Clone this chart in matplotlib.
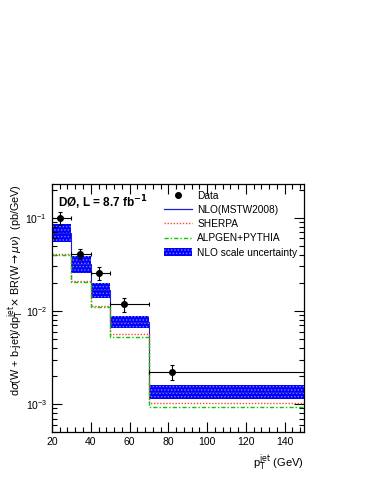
import numpy as np
import matplotlib.pyplot as plt
from matplotlib.patches import Patch
from matplotlib.lines import Line2D

plt.rcParams['font.family'] = ['Liberation Sans', 'DejaVu Sans']

# bin edges (GeV)
edges = [20, 30, 40, 50, 70, 150]

# data points
data_x = [24.3, 34.3, 44.2, 57.3, 81.7]
data_y = [0.100, 0.041, 0.0257, 0.0118, 0.0022]
data_err = [0.016, 0.005, 0.004, 0.002, 0.0004]

# NLO scale uncertainty band
nlo_hi = [0.086, 0.039, 0.0199, 0.0089, 0.00161]
nlo_lo = [0.055, 0.0254, 0.0138, 0.0065, 0.00113]

# predictions
sherpa = [0.041, 0.0207, 0.0113, 0.0056, 0.00104]
alpgen = [0.040, 0.0203, 0.0110, 0.0052, 0.00094]

nlo_c = list(np.sqrt(np.array(nlo_hi) * np.array(nlo_lo)))


def steps(vals):
    return list(vals) + [vals[-1]]


fig = plt.figure(figsize=(3.74, 4.84), dpi=100)
ax = fig.add_axes([0.139, 0.107, 0.674, 0.513])

plt.rcParams['hatch.color'] = '#8080ff'
plt.rcParams['hatch.linewidth'] = 0.6
ax.fill_between(edges, steps(nlo_lo), steps(nlo_hi), step='post',
                facecolor='#0000ff', edgecolor='#8080ff', hatch='.....',
                linewidth=0)
ax.step(edges, steps(nlo_c), where='post', color='#2020d0', lw=0.8)
ax.step(edges, steps(sherpa), where='post', color='#ff4040', lw=1.0,
        linestyle=(0, (1, 1.2)))
ax.step(edges, steps(alpgen), where='post', color='#00cc00', lw=1.0,
        linestyle=(0, (3, 1.5, 1, 1.5)))

xlo = [x - edges[i] for i, x in enumerate(data_x)]
xhi = [edges[i + 1] - x for i, x in enumerate(data_x)]
ax.errorbar(data_x, data_y, yerr=data_err, xerr=[xlo, xhi], fmt='o',
            color='black', ms=4, elinewidth=0.8, capsize=1.5, capthick=0.8)

ax.set_yscale('log')
ax.set_xlim(20, 150)
ax.set_ylim(5e-4, 0.23)
ax.xaxis.set_major_locator(plt.MultipleLocator(20))
ax.xaxis.set_minor_locator(plt.MultipleLocator(4))
ax.tick_params(which='both', direction='in', top=True, right=True,
               labelsize=7.5)
ax.tick_params(which='major', length=7, width=0.8)
ax.tick_params(which='minor', length=3.5, width=0.8)
for s in ax.spines.values():
    s.set_linewidth(0.9)

ax.set_xlabel(r'p$_{\mathrm{T}}^{\mathrm{jet}}$ (GeV)', fontsize=8,
              loc='right')
ax.set_ylabel(r'd$\sigma$(W + b-jet)/dp$_{\mathrm{T}}^{\mathrm{jet}}$'
              r'$\times$ BR(W$\rightarrow\mu\nu$)  (pb/GeV)',
              fontsize=7.8, loc='top')
ax.yaxis.set_label_coords(-0.105, 1.0)

ax.text(0.025, 0.96, r'DØ, L = 8.7 fb$^{\mathbf{-1}}$', transform=ax.transAxes,
        fontsize=8.5, fontweight='bold', va='top', ha='left')

handles = [
    Line2D([], [], marker='o', color='black', ls='none', ms=4),
    Line2D([], [], color='#2020d0', lw=0.9),
    Line2D([], [], color='#ff4040', lw=1.0, ls=(0, (1, 1.2))),
    Line2D([], [], color='#00cc00', lw=1.0, ls=(0, (3, 1.5, 1, 1.5))),
    Patch(facecolor='#0000ff', edgecolor='#8080ff', hatch='.....', lw=0),
]
labels = ['Data', 'NLO(MSTW2008)', 'SHERPA', 'ALPGEN+PYTHIA',
          'NLO scale uncertainty']
ax.legend(handles, labels, loc='upper right', bbox_to_anchor=(1.0, 1.0),
          frameon=False, fontsize=7.3, handlelength=2.8, labelspacing=0.42,
          handletextpad=0.5, borderaxespad=0.25)

fig.savefig('out.png', dpi=100)
